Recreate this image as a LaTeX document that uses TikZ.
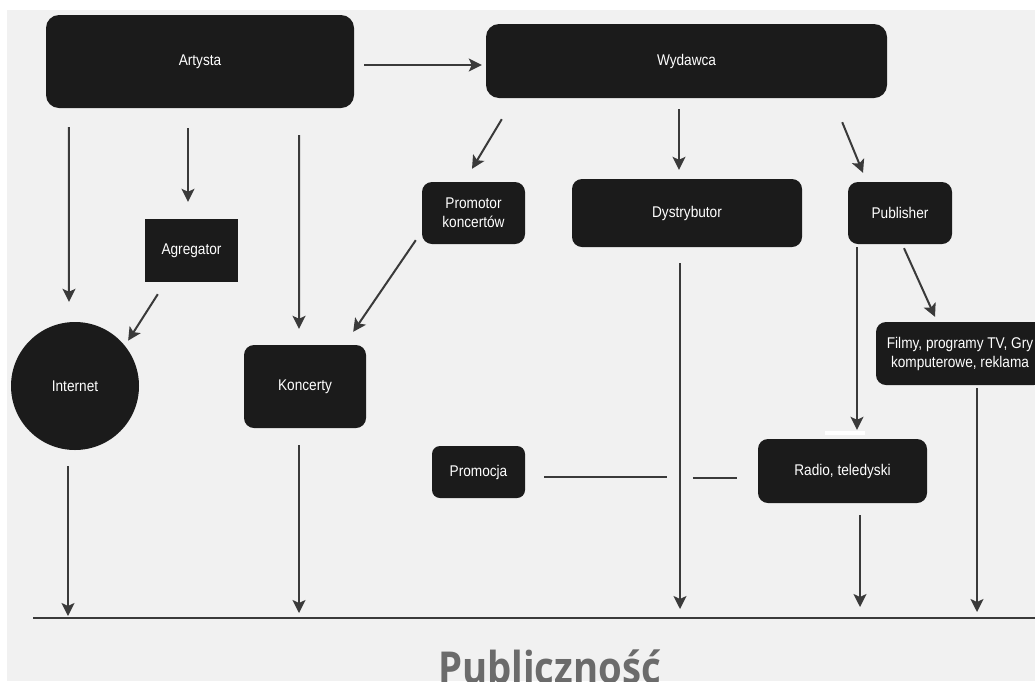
\documentclass[tikz,border=0pt]{standalone}
\usepackage{fontspec}
\setmainfont{Liberation Sans}
\newfontfamily\boxfont{Liberation Sans}[FakeStretch=0.88]
\newfontfamily\pubfont{Open Sans}[FakeStretch=0.87]
\usetikzlibrary{arrows.meta,calc}
\definecolor{bg}{HTML}{F1F1F1}
\definecolor{boxc}{HTML}{1B1B1B}
\definecolor{linec}{HTML}{3A3A3A}
\definecolor{pubc}{HTML}{6B6B6B}
\begin{document}
\begin{tikzpicture}[x=1pt,y=-1pt,
  box/.style={fill=boxc, text=white, font=\boxfont\fontsize{15.5}{19}\selectfont,
    align=center, inner sep=0pt, rounded corners=10pt},
  conn/.style={draw=linec, line width=2pt, -{Stealth[length=13pt,width=13pt,inset=3pt]}},
  plain/.style={draw=linec, line width=2pt}]
\useasboundingbox (0,0) rectangle (1035,681);
\fill[white] (0,0) rectangle (1035,681);
\fill[bg] (7,10) rectangle (1035,681);

\node[box, rounded corners=13pt, minimum width=308pt, minimum height=93pt] (art) at (200,61.5) {Artysta};
\node[box, rounded corners=13pt, minimum width=401pt, minimum height=74pt] (wyd) at (686.5,61) {Wydawca};
\node[box, rounded corners=0pt, minimum width=93pt, minimum height=63pt] (agr) at (191.5,250.5) {Agregator};
\node[box, minimum width=103pt, minimum height=62pt] (prom) at (473.5,213) {Promotor\\koncertów};
\node[box, minimum width=230pt, minimum height=68pt] (dys) at (687,213) {Dystrybutor};
\node[box, minimum width=104pt, minimum height=62pt] (pub) at (900,213) {Publisher};
\node[box, circle, minimum size=128pt] (int) at (75,386) {Internet};
\node[box, minimum width=122pt, minimum height=83pt] (kon) at (305,386.5) {Koncerty};
\node[box, minimum width=168pt, minimum height=63pt] (film) at (960,353.5) {Filmy, programy TV, Gry\\komputerowe, reklama};
\node[box, rounded corners=8pt, minimum width=93pt, minimum height=52pt] (promo) at (478.5,472) {Promocja};
\node[box, minimum width=169pt, minimum height=64pt] (radio) at (842.5,471) {Radio, teledyski};

\fill[white] (825,431) rectangle (865,435);

\coordinate (bl) at (33,618);
\coordinate (br) at (1035,618);
\draw[plain] (bl) -- (br);

\draw[conn] ($(art.east)+(10,3.5)$) -- ($(wyd.west)+(-4,4)$);
\draw[conn] ($(art.south west)+(23,19)$) -- ($(int.north)+(-6,-20)$);
\draw[conn] ($(art.south)+(-12,20)$) -- ($(agr.north)+(-3.5,-17)$);
\draw[conn] ($(art.south east)+(-55,27)$) -- ($(kon.north)+(-6,-16)$);
\draw[conn] ($(agr.south west)+(13,12)$) -- ($(int.north east)+(7.75,0)$);
\draw[conn] ($(wyd.south west)+(16,21)$) -- ($(prom.north)+(-1.5,-13)$);
\draw[conn] ($(wyd.south)+(-7.5,11)$) -- ($(dys.north)+(-8,-9)$);
\draw[conn] ($(wyd.south east)+(-45,24)$) -- ($(pub.north)+(-37,-9)$);
\draw[conn] ($(prom.south west)+(-6,-4)$) -- ($(kon.north east)+(-13,-13)$);
\draw[conn] ($(pub.south)+(-43,3)$) -- ($(radio.north)+(14.5,-9)$);
\draw[conn] ($(pub.south)+(4,4)$) -- ($(film.north)+(-25,-5)$);
\draw[conn] ($(int.south)+(-7,16)$) -- ($(int.south |- bl)+(-7,-2)$);
\draw[conn] ($(kon.south)+(-6,17)$) -- ($(kon.south |- bl)+(-6,-5)$);
\draw[conn] ($(dys.south)+(-7,16)$) -- ($(dys.south |- bl)+(-7,-9)$);
\draw[conn] ($(radio.south)+(17.5,12)$) -- ($(radio.south |- bl)+(17.5,-11)$);
\draw[conn] ($(film.south)+(17,3)$) -- ($(film.south |- bl)+(17,-6)$);
\draw[plain] ($(promo.east)+(19,5)$) -- ($(promo.east)+(142,5)$);
\draw[plain] ($(radio.west)+(-65,7)$) -- ($(radio.west)+(-21,7)$);

\node[anchor=base, text=pubc, font=\pubfont\bfseries\fontsize{44}{50}\selectfont, inner sep=0pt] (publ) at (549.5,683) {Publiczność};
\end{tikzpicture}
\end{document}
